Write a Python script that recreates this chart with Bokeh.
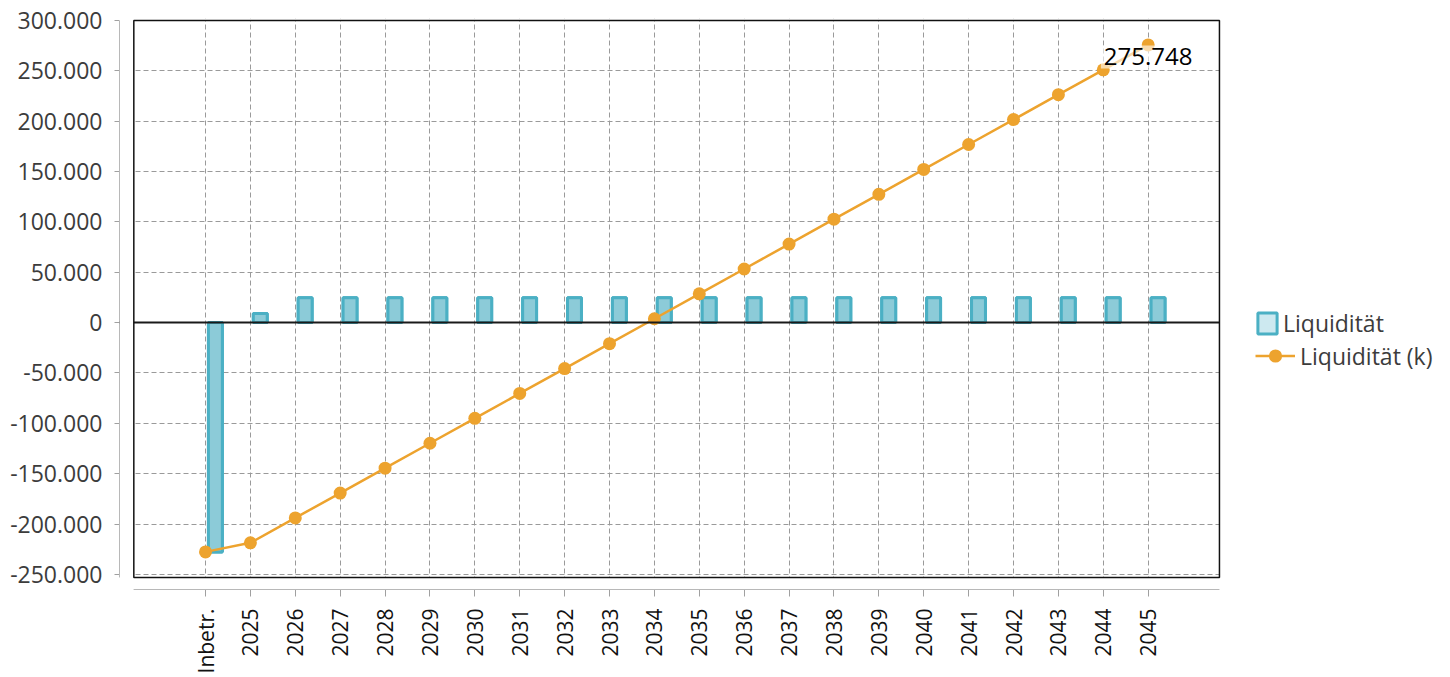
import math
from bokeh.plotting import figure
from bokeh.models import (Range1d, FixedTicker, Span, BoxAnnotation, Legend,
                          LegendItem, ColumnDataSource)
from bokeh.transform import dodge
from bokeh.core.properties import value
from bokeh.embed import file_html
from bokeh.resources import INLINE

# ---------------- data ----------------
categories = ["Inbetr.", "2025", "2026", "2027", "2028", "2029", "2030", "2031",
              "2032", "2033", "2034", "2035", "2036", "2037", "2038", "2039",
              "2040", "2041", "2042", "2043", "2044", "2045"]
liquiditaet = [-227652, 9000, 24720, 24720, 24720, 24720, 24720, 24720,
               24720, 24720, 24720, 24720, 24720, 24720, 24720, 24720,
               24720, 24720, 24720, 24720, 24720, 24720]
liquiditaet_kum = [-227652, -218652, -193932, -169212, -144492, -119772, -95052,
                   -70332, -45612, -20892, 3828, 28548, 53268, 77988, 102708,
                   127428, 152148, 176868, 201588, 226308, 251028, 275748]
y_ticks = [-250000, -200000, -150000, -100000, -50000, 0, 50000, 100000,
           150000, 200000, 250000, 300000]
y_tick_labels = ["-250.000", "-200.000", "-150.000", "-100.000", "-50.000", "0",
                 "50.000", "100.000", "150.000", "200.000", "250.000", "300.000"]
end_label = "275.748"
series_names = ["Liquidität", "Liquidität (k)"]

# ---------------- styling ----------------
FONT = "Open Sans"
BAR_FILL = "#8CCBD8"
BAR_LINE = "#4BB0C4"
ORANGE = "#EDA32E"
GRID = "#9a9a9a"
AXIS = "#a0a0a0"

x_idx = list(range(len(categories)))
src = ColumnDataSource(dict(x=x_idx, cat=categories, bar=liquiditaet, kum=liquiditaet_kum))

# frame spans the whole right side; inner plot box is drawn as an annotation
x_start, x_end = -1.916, 27.735
x_inner_l, x_inner_r = -1.597, 22.588
y_start, y_end = -265000, 301985
y_inner_b, y_inner_t = -253000, 300000

p = figure(width=1450, height=677, output_backend="svg", toolbar_location=None,
           x_range=Range1d(x_start, x_end), y_range=Range1d(y_start, y_end),
           min_border_left=119, min_border_right=0, min_border_top=18,
           min_border_bottom=88)
p.outline_line_color = None
p.background_fill_color = "white"
p.border_fill_color = "white"

# axes
p.xaxis.ticker = FixedTicker(ticks=x_idx)
p.xaxis.major_label_overrides = {i: c for i, c in zip(x_idx, categories)}
p.xaxis.major_label_orientation = math.pi / 2
p.xaxis.major_label_text_font = FONT
p.xaxis.major_label_text_font_size = "21px"
p.xaxis.major_label_text_color = "#111111"
p.xaxis.major_label_standoff = 12
p.xaxis.axis_line_color = AXIS
p.xaxis.major_tick_line_color = AXIS
p.xaxis.major_tick_out = 7
p.xaxis.major_tick_in = 0
p.xaxis.minor_tick_line_color = None
p.xaxis.bounds = (x_inner_l, x_inner_r)

p.yaxis.ticker = FixedTicker(ticks=y_ticks)
p.yaxis.major_label_overrides = {t: l for t, l in zip(y_ticks, y_tick_labels)}
p.yaxis.major_label_text_font = FONT
p.yaxis.major_label_text_font_size = "23px"
p.yaxis.major_label_text_color = "#3c3c3c"
p.yaxis.major_label_standoff = 12
p.yaxis.axis_line_color = AXIS
p.yaxis.major_tick_line_color = AXIS
p.yaxis.major_tick_out = 5
p.yaxis.major_tick_in = 0
p.yaxis.minor_tick_line_color = None
p.yaxis.bounds = (y_inner_b, y_inner_t)

for g in (p.xgrid, p.ygrid):
    g.grid_line_color = GRID
    g.grid_line_dash = "5 3"
    g.grid_line_width = 1

# zero line
p.add_layout(Span(location=0, dimension="width", line_color="#1a1a1a", line_width=2))

# legend swatch renderer: identical geometry, fully hidden beneath the real bars
swatch = p.vbar(x=dodge("x", 0.22), top="bar", bottom=0, width=0.31, source=src,
                fill_color="#CDE9F0", line_color=BAR_LINE, line_width=3)
# bars
bars = p.vbar(x=dodge("x", 0.22), top="bar", bottom=0, width=0.31, source=src,
              fill_color=BAR_FILL, line_color=BAR_LINE, line_width=3)

# cumulative line
ln = p.line(x="x", y="kum", source=src, line_color=ORANGE, line_width=2.5)
pts = p.scatter(x="x", y="kum", source=src, size=13, fill_color=ORANGE, line_color=None)

# end value label
lab_src = ColumnDataSource(dict(x=[x_idx[-1]], y=[liquiditaet_kum[-1]], t=[end_label]))
p.text(x="x", y="y", text="t", source=lab_src, text_align="center",
       text_baseline="middle", y_offset=12, text_font=value(FONT),
       text_font_size="24px", text_color="black",
       background_fill_color="white", background_fill_alpha=0.6, padding=3)

# white areas outside the inner plot box
for kw in (dict(right=x_inner_l), dict(top=y_inner_b), dict(bottom=y_inner_t),
           dict(left=x_inner_r)):
    p.add_layout(BoxAnnotation(fill_color="white", fill_alpha=1, line_color=None, **kw))
# inner plot frame
p.add_layout(BoxAnnotation(left=x_inner_l, right=x_inner_r, bottom=y_inner_b,
                           top=y_inner_t, fill_alpha=0, line_color="#111111",
                           line_alpha=1, line_width=1.5))

leg_common = dict(padding=0, margin=0, spacing=0, background_fill_alpha=0,
                  border_line_alpha=0, label_text_font=FONT,
                  label_text_font_size="23px", label_text_color="#3c3c3c")
leg1 = Legend(items=[LegendItem(label=series_names[0], renderers=[swatch])],
              location=(1136, 250), glyph_width=24, glyph_height=26,
              label_standoff=4, **leg_common)
leg2 = Legend(items=[LegendItem(label=series_names[1], renderers=[ln, pts])],
              location=(1136, 217), glyph_width=40, glyph_height=33,
              label_standoff=5, **leg_common)
p.add_layout(leg1, "center")
p.add_layout(leg2, "center")

open("out.html", "w").write(file_html(p, INLINE))
